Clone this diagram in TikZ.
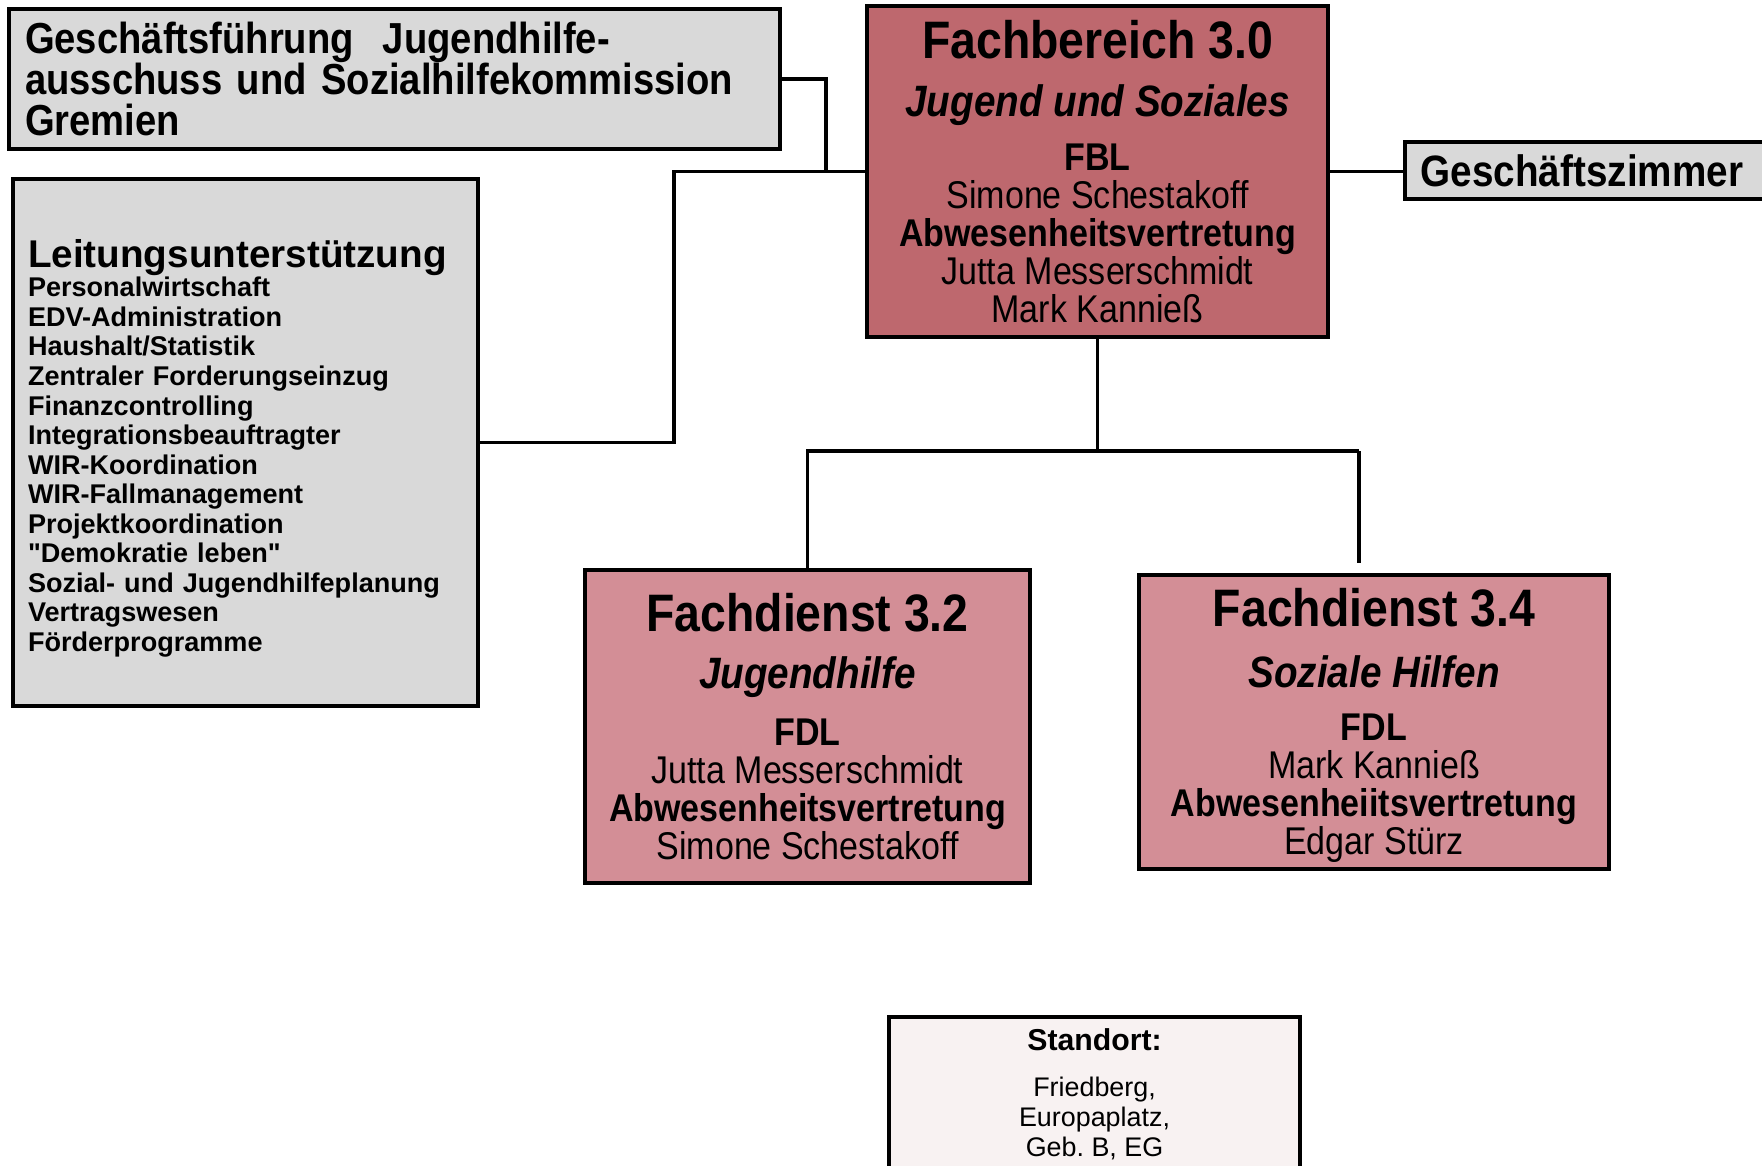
\documentclass[tikz,border=0pt]{standalone}
\usepackage{fontspec}
\setmainfont{Liberation Sans}
\newfontfamily\narrowfont[FakeStretch=0.88]{Liberation Sans}
\usetikzlibrary{positioning,calc}
\definecolor{fbclr}{RGB}{190,104,110}
\definecolor{fdclr}{RGB}{211,142,150}
\definecolor{grayclr}{RGB}{217,217,217}
\definecolor{siteclr}{RGB}{248,242,242}
\newcommand{\boxtitle}[1]{{\bfseries\fontsize{15}{15}\selectfont #1}}
\newcommand{\boxsub}[1]{{\bfseries\itshape\fontsize{12.5}{12.5}\selectfont #1}}

\begin{document}
\begin{tikzpicture}[
    x=1cm,
    y=1cm,
    font=\narrowfont\fontsize{11}{10.8}\selectfont,
    graybox/.style={draw=black, fill=grayclr, line width=1pt, inner xsep=0.16cm, align=left},
    fbbox/.style={draw=black, fill=fbclr, line width=1pt, align=center},
    fdbox/.style={draw=black, fill=fdclr, line width=1pt, align=center},
    sitebox/.style={draw=black, fill=siteclr, line width=1pt, align=center, font=\fontsize{7.65}{8.5}\selectfont},
    link/.style={line width=1pt}
]
\useasboundingbox (0,0) rectangle (17.62,11.65);
\clip (0,0) rectangle (17.62,11.65);

% Top level.
\node[fbbox, minimum width=4.61cm, minimum height=3.31cm] (fach) at (10.975, 9.935) {\boxtitle{Fachbereich 3.0}\\[5.8pt]
  \boxsub{Jugend und Soziales}\\[4.7pt]
  \textbf{FBL}\\
  Simone Schestakoff\\
  \textbf{Abwesenheitsvertretung}\\
  Jutta Messerschmidt\\
  Mark Kannieß};

% Staff units.
\node[graybox, minimum width=7.71cm, minimum height=1.4cm, text width=7.39cm, font=\narrowfont\bfseries\fontsize{12.35}{11.8}\selectfont] (gremien) at (3.945, 10.86) {Geschäftsführung\ \ Jugendhilfe-\\ausschuss und Sozialhilfekommission\\Gremien};
\node[graybox, minimum width=4.65cm, minimum height=5.27cm, text width=4.35cm, inner xsep=0.15cm, font=\bfseries\fontsize{7.7}{8.4}\selectfont\addfontfeatures{Ligatures=TeXOff}] (leitung) at (2.455, 7.225) {\rule{0pt}{11.2pt}{\fontsize{11}{11}\selectfont Leitungsunterstützung}\\
  Personalwirtschaft\\
  EDV-Administration\\
  Haushalt/Statistik\\
  Zentraler Forderungseinzug\\
  Finanzcontrolling\\
  Integrationsbeauftragter\\
  WIR-Koordination\\
  WIR-Fallmanagement\\
  Projektkoordination\\
  "Demokratie leben"\\
  Sozial- und Jugendhilfeplanung\\
  Vertragswesen\\
  Förderprogramme};
\node[graybox, anchor=west, minimum height=0.57cm, text width=3.6cm, font=\narrowfont\bfseries\fontsize{12.5}{12.5}\selectfont] (zimmer) at (14.03, 9.945) {Geschäftszimmer};

% Fachdienste.
\node[fdbox, minimum width=4.45cm, minimum height=3.13cm] (fd32) at (8.075, 4.385) {\boxtitle{Fachdienst 3.2}\\[5.5pt]
  \boxsub{Jugendhilfe}\\[5.6pt]
  \textbf{FDL}\\
  Jutta Messerschmidt\\
  \textbf{Abwesenheitsvertretung}\\
  Simone Schestakoff};
\node[fdbox, minimum width=4.70cm, minimum height=2.94cm, inner ysep=0.5mm] (fd34) at (13.74, 4.43) {\rule{0pt}{13pt}\boxtitle{Fachdienst 3.4}\\[6.4pt]
  \boxsub{Soziale Hilfen}\\[4.4pt]
  \textbf{FDL}\\
  Mark Kannieß\\
  \textbf{Abwesenheiitsvertretung}\\
  Edgar Stürz};

% Location.
\node[sitebox, anchor=north, minimum width=4.11cm, minimum height=1.55cm] (site) at (10.945, 1.50) {{\bfseries\fontsize{8.6}{8.6}\selectfont Standort:}\\[4.6pt]
  Friedberg,\\
  Europaplatz,\\
  Geb.\ B, EG};

% Connections.
\coordinate (bus) at (10.975, 7.14);
\coordinate (bus34) at (13.59, 7.14);
\draw[link] (gremien.east) -- ++(0.44,0) |- (fach.west);
\draw[link] (leitung.east) -- ++(1.94,0) |- (fach.west);
\draw[link] (fach.east) -- (zimmer.west |- fach.east);
\draw[link] (fach.south) -- (bus);
\draw[link] (fd32.north) |- (bus34);
\draw[link, shorten >=0.1cm] (bus34) -- (bus34 |- fd34.north);

\end{tikzpicture}
\end{document}
